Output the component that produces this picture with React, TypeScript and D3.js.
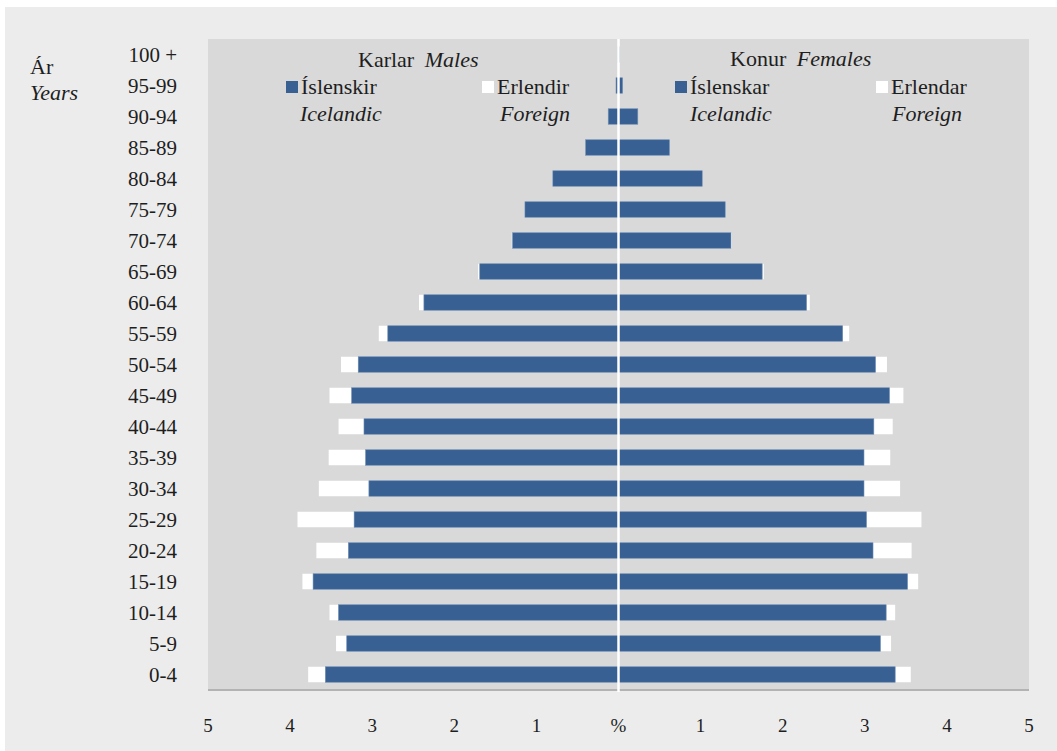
import * as d3 from "d3";

const ageGroups = [
  "0-4", "5-9", "10-14", "15-19", "20-24", "25-29", "30-34", "35-39", "40-44",
  "45-49", "50-54", "55-59", "60-64", "65-69", "70-74", "75-79", "80-84",
  "85-89", "90-94", "95-99", "100 +",
];

// percent of total population
const malesIcelandic = [
  3.57, 3.31, 3.41, 3.72, 3.29, 3.22, 3.04, 3.08, 3.1, 3.25, 3.17, 2.81, 2.37,
  1.69, 1.29, 1.14, 0.8, 0.4, 0.125, 0.03, 0.005,
];
const malesForeign = [
  0.21, 0.13, 0.11, 0.13, 0.39, 0.69, 0.61, 0.45, 0.31, 0.27, 0.21, 0.11, 0.06,
  0.02, 0.01, 0.005, 0.005, 0, 0, 0, 0,
];
const femalesIcelandic = [
  3.37, 3.19, 3.26, 3.52, 3.1, 3.02, 2.99, 2.99, 3.11, 3.3, 3.13, 2.73, 2.29,
  1.75, 1.37, 1.3, 1.02, 0.62, 0.235, 0.05, 0.01,
];
const femalesForeign = [
  0.19, 0.13, 0.11, 0.13, 0.47, 0.67, 0.44, 0.32, 0.23, 0.17, 0.14, 0.08, 0.04,
  0.02, 0.01, 0.005, 0.005, 0, 0, 0, 0,
];

const tickValues = [-5, -4, -3, -2, -1, 0, 1, 2, 3, 4, 5];

const W = 1057;
const H = 751;
const plot = { left: 208, right: 1029, top: 39, bottom: 690 };
const blue = "#386092";
const serif = "'Liberation Serif', 'Times New Roman', serif";
const ink = "#1e1e1e";

export default function App() {
  const x = d3.scaleLinear().domain([-5, 5]).range([plot.left, plot.right]);
  const y = d3
    .scaleBand<string>()
    .domain(ageGroups.slice().reverse())
    .range([plot.top, plot.bottom])
    .paddingInner(0.5)
    .paddingOuter(0.25);

  const bh = y.bandwidth();

  let rows = ageGroups.map((age, i) => {
    const yy = y(age)!;
    const mI = malesIcelandic[i];
    const mF = malesForeign[i];
    const fI = femalesIcelandic[i];
    const fF = femalesForeign[i];
    return (
      <g key={age}>
        {mF > 0 && (
          <rect x={x(-(mI + mF))} y={yy} width={x(0) - x(-mF)} height={bh} fill="white" />
        )}
        {fF > 0 && (
          <rect x={x(fI)} y={yy} width={x(fF) - x(0)} height={bh} fill="white" />
        )}
        <rect
          x={x(-mI)}
          y={yy}
          width={x(0) - x(-mI)}
          height={bh}
          fill={blue}
          stroke="#6f8fb5"
          strokeWidth={0.6}
        />
        <rect
          x={x(0)}
          y={yy}
          width={x(fI) - x(0)}
          height={bh}
          fill={blue}
          stroke="#6f8fb5"
          strokeWidth={0.6}
        />
        <text
          x={177}
          y={yy + bh / 2}
          dy="0.35em"
          textAnchor="end"
          fontSize={21}
          fill={ink}
        >
          {age}
        </text>
      </g>
    );
  });

  let ticks = tickValues.map((t) => (
    <text
      key={t}
      x={x(t)}
      y={732}
      textAnchor="middle"
      fontSize={19}
      fill={ink}
    >
      {t === 0 ? "%" : Math.abs(t)}
    </text>
  ));

  const legendItem = (sx: number, fill: string, label: string, sub: string, subX: number) => (
    <g>
      <rect x={sx} y={81} width={12} height={12} fill={fill} />
      <text x={sx + 15} y={94} fontSize={22} fill={ink}>
        {label}
      </text>
      <text x={subX} y={121} fontSize={22} fontStyle="italic" fill={ink}>
        {sub}
      </text>
    </g>
  );

  return (
    <svg
      width={W}
      height={H}
      style={{ position: "absolute", left: 0, top: 0, fontFamily: serif }}
    >
      <rect x={0} y={0} width={W} height={H} fill="white" />
      <rect x={5} y={7} width={W - 5} height={H - 7} fill="#ececec" />
      <rect
        x={plot.left}
        y={plot.top}
        width={plot.right - plot.left}
        height={plot.bottom - plot.top}
        fill="#d9d9d9"
      />
      <line
        x1={plot.left}
        x2={plot.right}
        y1={plot.bottom}
        y2={plot.bottom}
        stroke="#b3b3b3"
        strokeWidth={2}
      />
      {rows}
      <line
        x1={x(0)}
        x2={x(0)}
        y1={plot.top}
        y2={plot.bottom + 2}
        stroke="white"
        strokeWidth={2.5}
      />

      <text x={30} y={74} fontSize={22} fill={ink}>Ár</text>
      <text x={30} y={100} fontSize={22} fontStyle="italic" fill={ink}>Years</text>

      <text x={358} y={67} fontSize={22} fill={ink}>
        Karlar <tspan dx={5} fontStyle="italic">Males</tspan>
      </text>
      <text x={730} y={66} fontSize={22} fill={ink}>
        Konur <tspan dx={5} fontStyle="italic">Females</tspan>
      </text>
      {legendItem(286, blue, "Íslenskir", "Icelandic", 300)}
      {legendItem(482, "white", "Erlendir", "Foreign", 500)}
      {legendItem(675, blue, "Íslenskar", "Icelandic", 690)}
      {legendItem(876, "white", "Erlendar", "Foreign", 892)}

      {ticks}
    </svg>
  );
}
